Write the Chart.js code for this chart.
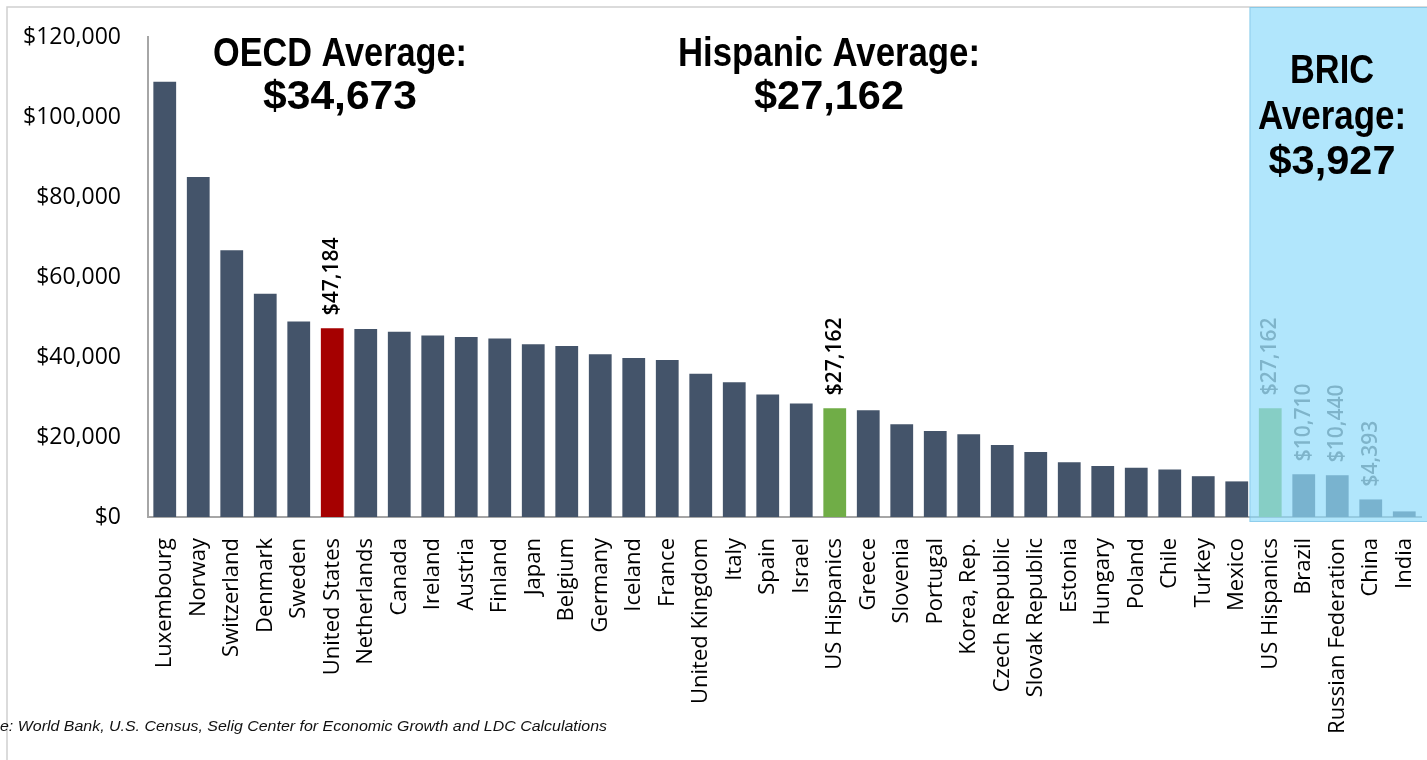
<!DOCTYPE html>
<html>
<head>
<meta charset="utf-8">
<script src="https://cdn.jsdelivr.net/npm/chart.js@4"></script>
<style>
  html, body { margin: 0; padding: 0; background: #fff; }
  #wrap { width: 1427px; height: 760px; position: relative; }
</style>
</head>
<body>
<div id="wrap"><canvas id="gdpChart"></canvas></div>
<script>
// GDP per capita, OECD members vs. US Hispanics vs. BRIC
const countries = [
    'Luxembourg', 'Norway', 'Switzerland', 'Denmark', 'Sweden', 'United States',
    'Netherlands', 'Canada', 'Ireland', 'Austria', 'Finland', 'Japan', 'Belgium',
    'Germany', 'Iceland', 'France', 'United Kingdom', 'Italy', 'Spain', 'Israel',
    'US Hispanics', 'Greece', 'Slovenia', 'Portugal', 'Korea, Rep.', 'Czech Republic',
    'Slovak Republic', 'Estonia', 'Hungary', 'Poland', 'Chile', 'Turkey', 'Mexico',
    'US Hispanics', 'Brazil', 'Russian Federation', 'China', 'India'
];
const gdpPerCapita = [
    108800, 85000, 66700, 55800, 48900, 47184,
    47000, 46300, 45400, 45000, 44600, 43200, 42750,
    40700, 39750, 39250, 35800, 33700, 30600, 28400,
    27162, 26700, 23200, 21500, 20700, 18000,
    16250, 13700, 12750, 12300, 11900, 10200, 8900,
    27162, 10710, 10440, 4393, 1400
];
const yTicks = [0, 20000, 40000, 60000, 80000, 100000, 120000];

const labelledBars = [5, 20, 33, 34, 35, 36];
const usIndex = 5;
const hispanicBars = [20, 33];
const bricStart = 33;

const averages = [
    { lines: ['OECD Average:', '$34,673'], x: 340, y: [55, 98], widths: [254, 154] },
    { lines: ['Hispanic Average:', '$27,162'], x: 829, y: [55, 98], widths: [302, 150] }
];
const bricNote = { lines: ['BRIC', 'Average:', '$3,927'], x: 1332, y: [72, 118, 163], widths: [84, 148, 127] };
const sourceNote = 'Source: World Bank, U.S. Census, Selig Center for Economic Growth and LDC Calculations';

const money = v => '$' + v.toLocaleString('en-US');

const barColors = countries.map((c, i) => {
    if (i === usIndex) return '#a50000';
    if (hispanicBars.includes(i)) return '#70ad47';
    return '#44546a';
});

const headFont = '"Liberation Sans", Arial, sans-serif';

// draw text centred at cx, squeezed to a given width
function fitText(ctx, text, cx, cy, width) {
    const w = ctx.measureText(text).width;
    ctx.save();
    ctx.translate(cx, cy);
    ctx.scale(width / w, 1);
    ctx.fillText(text, 0, 0);
    ctx.restore();
}

const slidePlugin = {
    id: 'slide',
    beforeDraw(chart) {
        const ctx = chart.ctx;
        ctx.save();
        ctx.fillStyle = '#fff';
        ctx.fillRect(0, 0, chart.width, chart.height);
        ctx.strokeStyle = '#cfcfcf';
        ctx.lineWidth = 1.5;
        ctx.strokeRect(7, 7, chart.width + 20, chart.height + 20);
        ctx.restore();
    },
    afterDatasetsDraw(chart) {
        const { ctx, scales: { x, y } } = chart;
        const meta = chart.getDatasetMeta(0);

        // value labels above selected bars
        ctx.save();
        ctx.font = '600 21px "Open Sans"';
        ctx.textAlign = 'left';
        ctx.textBaseline = 'middle';
        labelledBars.forEach(i => {
            const bar = meta.data[i];
            ctx.save();
            ctx.translate(bar.x, bar.y - 13);
            ctx.rotate(-Math.PI / 2);
            ctx.fillStyle = i >= bricStart ? '#595959' : '#000';
            ctx.fillText(money(gdpPerCapita[i]), 0, 0);
            ctx.restore();
        });
        ctx.restore();

        // BRIC panel laid over the last group
        const left = (x.getPixelForValue(bricStart - 1) + x.getPixelForValue(bricStart)) / 2 - 4;
        ctx.save();
        ctx.fillStyle = 'rgba(144,219,251,0.7)';
        ctx.fillRect(left, 7, chart.width - left, y.bottom + 5 - 7);
        ctx.strokeStyle = 'rgba(120,190,225,0.6)';
        ctx.lineWidth = 1;
        ctx.strokeRect(left + 0.5, 7.5, chart.width, y.bottom + 4 - 7);
        ctx.restore();

        // headline averages
        ctx.save();
        ctx.fillStyle = '#000';
        ctx.textAlign = 'center';
        ctx.textBaseline = 'middle';
        ctx.font = 'bold 41px ' + headFont;
        averages.concat([bricNote]).forEach(a => {
            a.lines.forEach((t, k) => fitText(ctx, t, a.x, a.y[k], a.widths[k]));
        });

        // source line, partly cut at the left edge
        ctx.font = 'italic 15px ' + headFont;
        ctx.textAlign = 'left';
        const full = ctx.measureText(sourceNote).width;
        const cut = ctx.measureText('Sourc').width;
        const sx = 607 / (full - cut);
        ctx.translate(0, 727);
        ctx.scale(sx, 1);
        ctx.fillStyle = '#111';
        ctx.fillText(sourceNote, -cut, 0);
        ctx.restore();
    }
};

new Chart(document.getElementById('gdpChart'), {
    type: 'bar',
    data: {
        labels: countries,
        datasets: [{
            data: gdpPerCapita,
            backgroundColor: barColors,
            borderWidth: 0,
            barPercentage: 0.68,
            categoryPercentage: 1.0
        }]
    },
    options: {
        responsive: true,
        maintainAspectRatio: false,
        animation: false,
        layout: { padding: { top: 37, right: 6, bottom: 0, left: 0 } },
        plugins: {
            legend: { display: false },
            tooltip: { enabled: false }
        },
        scales: {
            y: {
                min: 0,
                max: 120000,
                afterBuildTicks: scale => { scale.ticks = yTicks.map(v => ({ value: v })); },
                afterFit: scale => { scale.width = 148; scale.paddingTop = 0; scale.paddingBottom = 0; },
                ticks: {
                    padding: 27,
                    color: '#000',
                    font: { family: '"Open Sans"', size: 23 },
                    callback: v => money(v)
                },
                grid: { display: false, drawTicks: false },
                border: { display: true, color: '#a6a6a6', width: 2 }
            },
            x: {
                afterFit: scale => { scale.height = 243; scale.paddingLeft = 0; scale.paddingRight = 0; },
                ticks: {
                    autoSkip: false,
                    maxRotation: 90,
                    minRotation: 90,
                    padding: 21,
                    color: '#000',
                    font: { family: '"Open Sans"', size: 22 }
                },
                grid: { display: false, drawTicks: false },
                border: { display: true, color: '#a6a6a6', width: 2 }
            }
        }
    },
    plugins: [slidePlugin]
});
</script>
</body>
</html>
